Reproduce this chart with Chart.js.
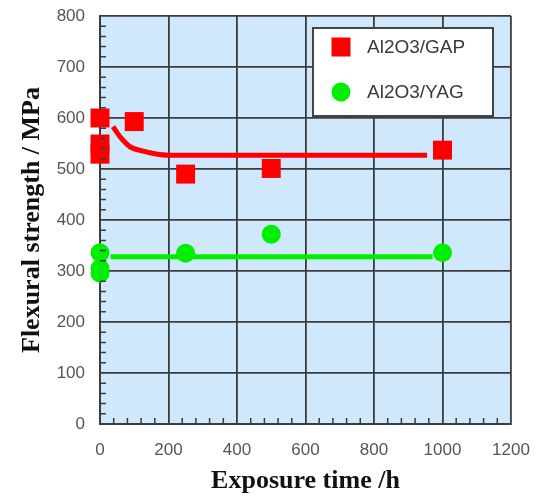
<!DOCTYPE html>
<html>
<head>
<meta charset="utf-8">
<script src="https://cdn.jsdelivr.net/npm/chart.js@4"></script>
<style>
  body { margin: 0; background: #fff; }
</style>
</head>
<body>
<canvas id="strength" width="540" height="497"></canvas>
<script>
const gapTime = [0, 0, 0, 100, 250, 500, 1000];
const gapStrength = [600, 549, 529, 593, 490, 501, 537];
const yagTime = [0, 0, 0, 250, 500, 1000];
const yagStrength = [336, 305, 296, 335, 372, 336];

// hand-drawn trend lines
const gapFitTime = [38, 60, 87, 126, 160, 200, 955];
const gapFitStrength = [583, 562, 544, 535, 530, 527, 527];
const yagFitTime = [31, 971];
const yagFitStrength = [328, 328];

const seriesNames = ['Al2O3/GAP', 'Al2O3/YAG'];
const xTicks = [0, 200, 400, 600, 800, 1000, 1200];
const yTicks = [0, 100, 200, 300, 400, 500, 600, 700, 800];

const RED = '#ff0000';
const GREEN = '#00ee00';
const GRID = '#3c3c3c';

const toPoints = (xs, ys) => xs.map((x, i) => ({ x: x, y: ys[i] }));

// light blue plot background
const plotBg = {
  id: 'plotBg',
  beforeDraw(chart) {
    const a = chart.chartArea, ctx = chart.ctx;
    ctx.save();
    ctx.fillStyle = '#d0e8fc';
    ctx.fillRect(a.left, a.top, a.right - a.left, a.bottom - a.top);
    ctx.restore();
  }
};

// small inward minor ticks along left and bottom axes
const minorTicks = {
  id: 'minorTicks',
  afterDraw(chart) {
    const ctx = chart.ctx, x = chart.scales.x, y = chart.scales.y;
    const a = chart.chartArea;
    ctx.save();
    ctx.strokeStyle = GRID;
    ctx.lineWidth = 1.5;
    ctx.beginPath();
    for (let v = 20; v < 800; v += 20) {
      if (v % 100 === 0) continue;
      const py = y.getPixelForValue(v);
      ctx.moveTo(a.left, py);
      ctx.lineTo(a.left + 6, py);
    }
    for (let v = 40; v < 1200; v += 40) {
      if (v % 200 === 0) continue;
      const px = x.getPixelForValue(v);
      ctx.moveTo(px, a.bottom);
      ctx.lineTo(px, a.bottom - 6);
    }
    ctx.stroke();
    ctx.restore();
  }
};

// boxed legend inside the plot
const boxLegend = {
  id: 'boxLegend',
  afterDraw(chart) {
    const ctx = chart.ctx;
    const x = 313, y = 28, w = 180, h = 88;
    ctx.save();
    ctx.fillStyle = '#ffffff';
    ctx.fillRect(x, y, w, h);
    ctx.strokeStyle = '#444';
    ctx.lineWidth = 2;
    ctx.strokeRect(x, y, w, h);

    ctx.fillStyle = RED;
    ctx.fillRect(341 - 9.5, 47 - 9.5, 19, 19);
    ctx.fillStyle = GREEN;
    ctx.beginPath();
    ctx.arc(341, 92, 9.5, 0, Math.PI * 2);
    ctx.fill();

    ctx.fillStyle = '#3a3a3a';
    ctx.font = '19px "Liberation Sans", Arial, sans-serif';
    ctx.textBaseline = 'middle';
    ctx.textAlign = 'left';
    ctx.fillText(seriesNames[0], 367, 48);
    ctx.fillText(seriesNames[1], 367, 93);
    ctx.restore();
  }
};

const tickFont = { family: '"Liberation Sans", Arial, sans-serif', size: 17 };
const titleFont = { family: '"Liberation Serif", "Times New Roman", serif', size: 26, weight: 'bold' };

new Chart(document.getElementById('strength'), {
  type: 'scatter',
  data: {
    datasets: [
      {
        label: seriesNames[0],
        data: toPoints(gapTime, gapStrength),
        pointStyle: 'rect',
        pointRadius: 13.4,
        backgroundColor: RED,
        borderWidth: 0,
        clip: false,
        order: 0
      },
      {
        label: seriesNames[1],
        data: toPoints(yagTime, yagStrength),
        pointStyle: 'circle',
        pointRadius: 9.5,
        backgroundColor: GREEN,
        borderWidth: 0,
        clip: false,
        order: 0
      },
      {
        label: 'gap fit',
        type: 'line',
        data: toPoints(gapFitTime, gapFitStrength),
        borderColor: RED,
        borderWidth: 5,
        pointRadius: 0,
        cubicInterpolationMode: 'monotone',
        fill: false,
        order: 1
      },
      {
        label: 'yag fit',
        type: 'line',
        data: toPoints(yagFitTime, yagFitStrength),
        borderColor: GREEN,
        borderWidth: 5,
        pointRadius: 0,
        fill: false,
        order: 1
      }
    ]
  },
  options: {
    responsive: false,
    animation: false,
    layout: { padding: { left: 0, top: 16, right: 29, bottom: 0 } },
    plugins: {
      legend: { display: false },
      tooltip: { enabled: false }
    },
    scales: {
      x: {
        type: 'linear',
        min: 0,
        max: 1200,
        afterBuildTicks: s => { s.ticks = xTicks.map(v => ({ value: v })); },
        afterFit: s => { s.height = 73; s.paddingLeft = 0; s.paddingRight = 0; },
        grid: { color: GRID, lineWidth: 1.8, drawTicks: false },
        border: { color: GRID, width: 2 },
        ticks: { color: '#555', font: tickFont, padding: 16, maxRotation: 0, callback: v => String(v) },
        title: {
          display: true,
          text: 'Exposure time /h',
          color: '#111',
          font: titleFont,
          padding: { top: 0, bottom: 0 }
        }
      },
      y: {
        type: 'linear',
        min: 0,
        max: 800,
        afterBuildTicks: s => { s.ticks = yTicks.map(v => ({ value: v })); },
        afterFit: s => { s.width = 100; s.paddingTop = 0; s.paddingBottom = 0; },
        grid: { color: GRID, lineWidth: 1.8, drawTicks: false },
        border: { color: GRID, width: 2 },
        ticks: { color: '#555', font: tickFont, padding: 15, callback: v => String(v) },
        title: {
          display: true,
          text: 'Flexural strength / MPa',
          color: '#111',
          font: titleFont,
          padding: { top: 17, bottom: 0 }
        }
      }
    }
  },
  plugins: [plotBg, minorTicks, boxLegend]
});
</script>
</body>
</html>
